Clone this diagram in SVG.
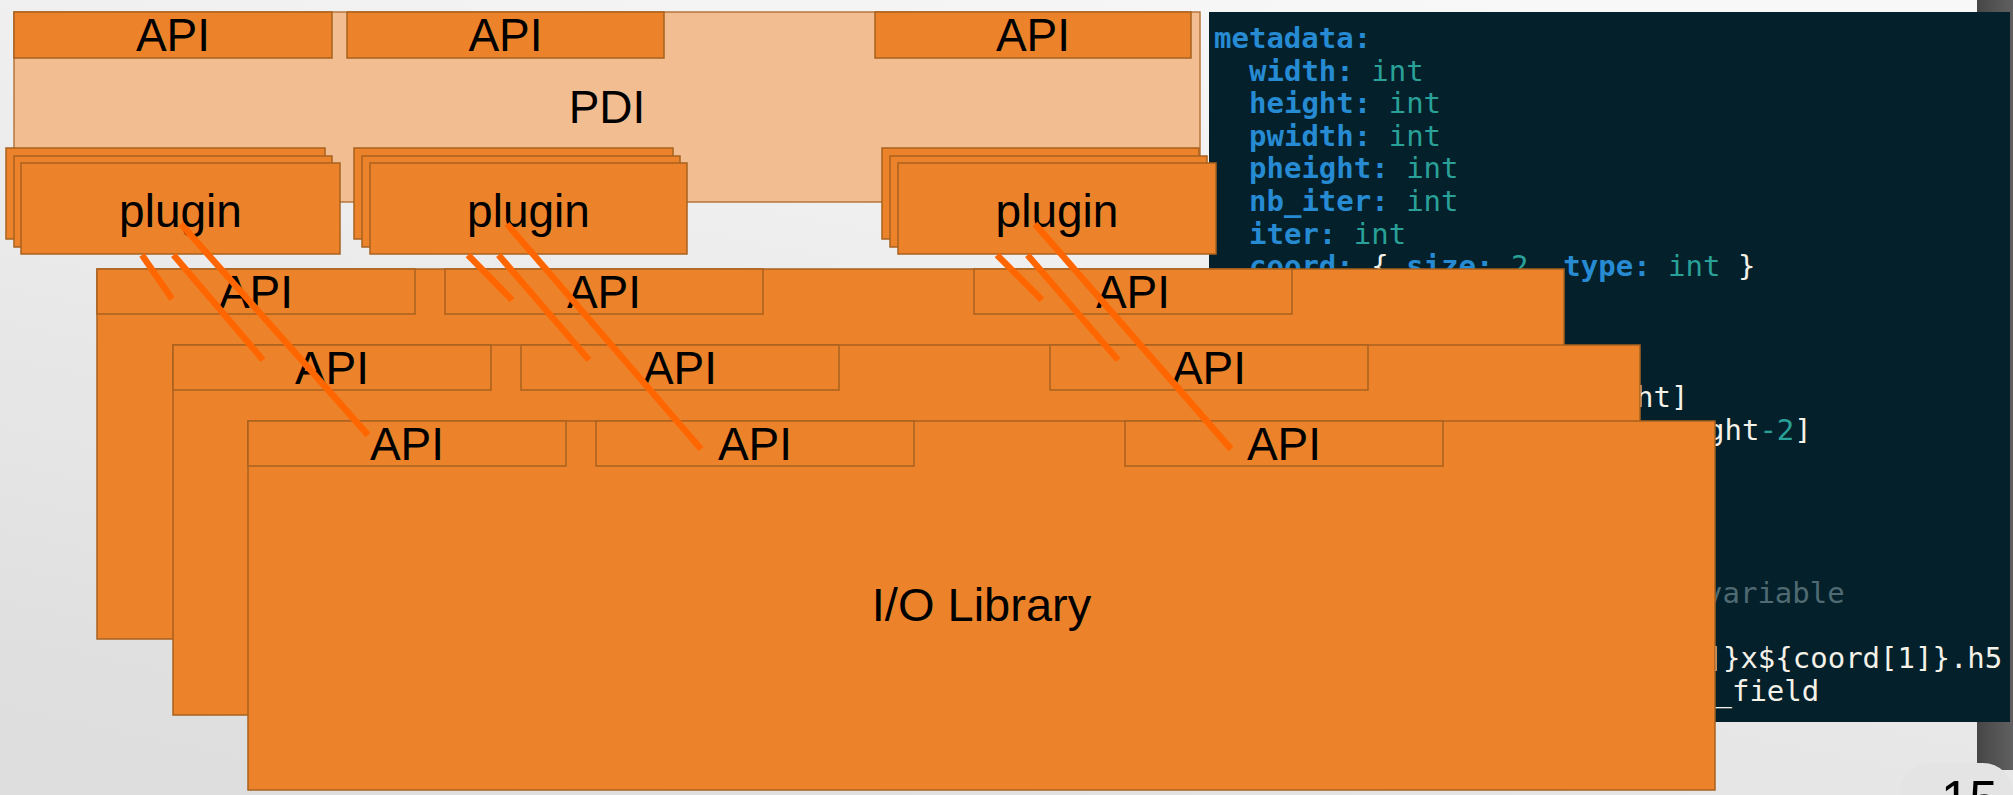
<svg xmlns="http://www.w3.org/2000/svg" width="2013" height="795" viewBox="0 0 2013 795">
<defs>
<linearGradient id="bg" x1="0.75" y1="0" x2="0.2" y2="1">
<stop offset="0" stop-color="#f8f8f8"/>
<stop offset="1" stop-color="#dedede"/>
</linearGradient>
<linearGradient id="bar" x1="0" y1="0" x2="1" y2="0">
<stop offset="0" stop-color="#464646"/>
<stop offset="1" stop-color="#606060"/>
</linearGradient>
<style>
.box{fill:#ec832b;stroke:#a9621f;stroke-width:1.5}
.pdi{fill:#f2bd91;stroke:#b5773d;stroke-width:1.5}
.lbl{font-family:"Liberation Sans",Arial,sans-serif;font-size:46px;fill:#000;text-anchor:middle}
.code text{font-family:"DejaVu Sans Mono","Liberation Mono",monospace;font-size:29px;white-space:pre}
.k{fill:#268bd2;font-weight:bold}
.t{fill:#2aa198}
.w{fill:#f4f1e8}
.c{fill:#4f6a72}
.conn{stroke:#ff6600;stroke-width:6.5;fill:none;stroke-linecap:butt}
</style>
</defs>
<rect x="0" y="0" width="2013" height="795" fill="url(#bg)"/>
<rect x="1977" y="0" width="36" height="770" fill="url(#bar)"/>
<rect x="1900" y="763" width="113" height="100" rx="30" fill="#e4e4e4"/>
<text x="1941" y="817" font-family="Liberation Sans,Arial,sans-serif" font-size="51" fill="#000">15</text>

<g id="code-panel">
<rect x="1209" y="12" width="801" height="710" fill="#03202b"/>
<g class="code">
<text x="1214" y="48" xml:space="preserve"><tspan class="k">metadata:</tspan></text>
<text x="1249" y="81" xml:space="preserve"><tspan class="k">width:</tspan><tspan class="t"> int</tspan></text>
<text x="1249" y="113" xml:space="preserve"><tspan class="k">height:</tspan><tspan class="t"> int</tspan></text>
<text x="1249" y="146" xml:space="preserve"><tspan class="k">pwidth:</tspan><tspan class="t"> int</tspan></text>
<text x="1249" y="178" xml:space="preserve"><tspan class="k">pheight:</tspan><tspan class="t"> int</tspan></text>
<text x="1249" y="211" xml:space="preserve"><tspan class="k">nb_iter:</tspan><tspan class="t"> int</tspan></text>
<text x="1249" y="244" xml:space="preserve"><tspan class="k">iter:</tspan><tspan class="t"> int</tspan></text>
<text x="1249" y="276" xml:space="preserve"><tspan class="k">coord:</tspan><tspan class="w"> { </tspan><tspan class="k">size:</tspan><tspan class="t"> 2</tspan><tspan class="w">, </tspan><tspan class="k">type:</tspan><tspan class="t"> int</tspan><tspan class="w"> }</tspan></text>
<text x="1636" y="407" class="w">ht]</text>
<text x="1707" y="440"><tspan class="w">ght</tspan><tspan class="t">-2</tspan><tspan class="w">]</tspan></text>
<text x="1705" y="603" class="c">variable</text>
<text x="1688" y="668" class="w">0]}x${coord[1]}.h5</text>
<text x="1697" y="701" class="w">n_field</text>
</g>
</g>

<g id="pdi">
<rect class="pdi" x="14" y="12" width="1186" height="190"/>
<text class="lbl" x="607" y="123">PDI</text>
</g>
<g id="pdi-api-1"><rect class="box" x="14" y="12" width="318" height="46"/><text class="lbl" x="173" y="51">API</text></g>
<g id="pdi-api-2"><rect class="box" x="347" y="12" width="317" height="46"/><text class="lbl" x="505.5" y="51">API</text></g>
<g id="pdi-api-3"><rect class="box" x="875" y="12" width="316" height="46"/><text class="lbl" x="1033" y="51">API</text></g>

<g id="plugin-1">
<rect class="box" x="6" y="148" width="319" height="91"/>
<rect class="box" x="14" y="156" width="318" height="91"/>
<rect class="box" x="21" y="163" width="319" height="91"/>
<text class="lbl" x="180.5" y="227">plugin</text>
</g>
<g id="plugin-2">
<rect class="box" x="354" y="148" width="319" height="91"/>
<rect class="box" x="362" y="156" width="318" height="91"/>
<rect class="box" x="370" y="163" width="317" height="91"/>
<text class="lbl" x="528.5" y="227">plugin</text>
</g>
<g id="plugin-3">
<rect class="box" x="882" y="148" width="317" height="91"/>
<rect class="box" x="890" y="156" width="317" height="91"/>
<rect class="box" x="898" y="163" width="318" height="91"/>
<text class="lbl" x="1057" y="227">plugin</text>
</g>

<g id="io-library-1">
<rect class="box" x="97" y="269" width="1467" height="370"/>
<rect class="box" x="97" y="269" width="318" height="45"/><text class="lbl" x="256" y="308">API</text>
<rect class="box" x="445" y="269" width="318" height="45"/><text class="lbl" x="604" y="308">API</text>
<rect class="box" x="974" y="269" width="318" height="45"/><text class="lbl" x="1133" y="308">API</text>
</g>
<g id="io-library-2">
<rect class="box" x="173" y="345" width="1467" height="370"/>
<rect class="box" x="173" y="345" width="318" height="45"/><text class="lbl" x="332" y="384">API</text>
<rect class="box" x="521" y="345" width="318" height="45"/><text class="lbl" x="680" y="384">API</text>
<rect class="box" x="1050" y="345" width="318" height="45"/><text class="lbl" x="1209" y="384">API</text>
</g>
<g id="io-library-3">
<rect class="box" x="248" y="421" width="1467" height="369"/>
<rect class="box" x="248" y="421" width="318" height="45"/><text class="lbl" x="407" y="460">API</text>
<rect class="box" x="596" y="421" width="318" height="45"/><text class="lbl" x="755" y="460">API</text>
<rect class="box" x="1125" y="421" width="318" height="45"/><text class="lbl" x="1284" y="460">API</text>
<text class="lbl" x="981.5" y="621" style="font-size:47px">I/O Library</text>
</g>

<g id="connectors">
<line class="conn" x1="142" y1="255" x2="172" y2="299"/>
<line class="conn" x1="173.5" y1="255" x2="263" y2="360"/>
<line class="conn" x1="181" y1="224" x2="368" y2="435"/>
<line class="conn" x1="468" y1="255" x2="512" y2="300"/>
<line class="conn" x1="498.5" y1="255" x2="589" y2="360"/>
<line class="conn" x1="507" y1="224" x2="701" y2="449"/>
<line class="conn" x1="997" y1="255" x2="1042" y2="300"/>
<line class="conn" x1="1027.5" y1="255" x2="1118" y2="360"/>
<line class="conn" x1="1035" y1="224" x2="1231" y2="449"/>
</g>
</svg>
